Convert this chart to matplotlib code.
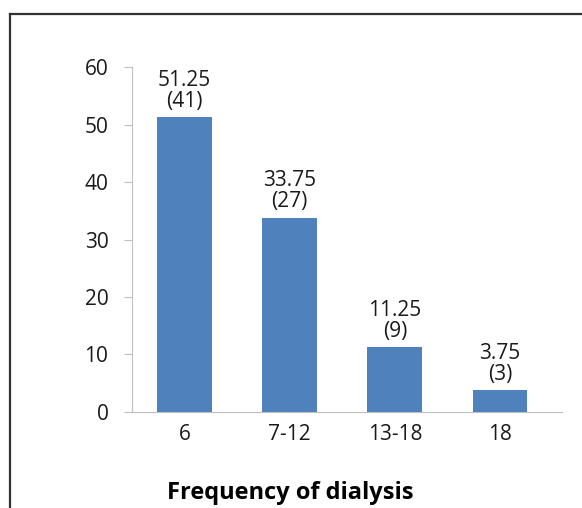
import matplotlib.pyplot as plt
from matplotlib.lines import Line2D

# data
categories = ["6", "7-12", "13-18", "18"]
percent = [51.25, 33.75, 11.25, 3.75]
counts = [41, 27, 9, 3]

plt.rcParams["font.family"] = ["Open Sans", "DejaVu Sans"]

fig = plt.figure(figsize=(5.82, 5.08), dpi=100)
ax = fig.add_axes([0.2268, 0.189, 0.7388, 0.679])

x = range(len(categories))
ax.bar(x, percent, width=0.52, color="#4f81bd", zorder=2)

for xi, p, n in zip(x, percent, counts):
    ax.annotate(f"{p:.2f}\n({n})", (xi, p), xytext=(0, 4), textcoords="offset points",
                ha="center", va="bottom", fontsize=15, color="#1a1a1a", linespacing=1.0)

ax.set_xlim(-0.5, 3.59)
ax.set_ylim(0, 60)
ax.set_yticks(range(0, 61, 10))
ax.set_xticks(list(x))
ax.set_xticklabels(categories)

for side in ["top", "right"]:
    ax.spines[side].set_visible(False)
ax.spines["left"].set_color("#bfbfbf")
ax.spines["bottom"].set_color("#bfbfbf")
ax.tick_params(axis="y", length=6, color="#bfbfbf", labelsize=15, labelcolor="#1a1a1a", pad=11)
ax.tick_params(axis="x", length=0, labelsize=15, labelcolor="#1a1a1a", pad=9)

ax.set_xlabel("Frequency of dialysis", fontsize=17, fontweight="bold", labelpad=18)
ax.xaxis.set_label_coords(0.367, -0.2)

# outer frame (left and top edges visible in the reference)
fig.add_artist(Line2D([10 / 582, 10 / 582], [0, 1 - 14 / 508], transform=fig.transFigure,
                      color="#333333", lw=1.6))
fig.add_artist(Line2D([10 / 582, 1], [1 - 14 / 508, 1 - 14 / 508], transform=fig.transFigure,
                      color="#333333", lw=1.6))

fig.savefig("out.png", dpi=100)
